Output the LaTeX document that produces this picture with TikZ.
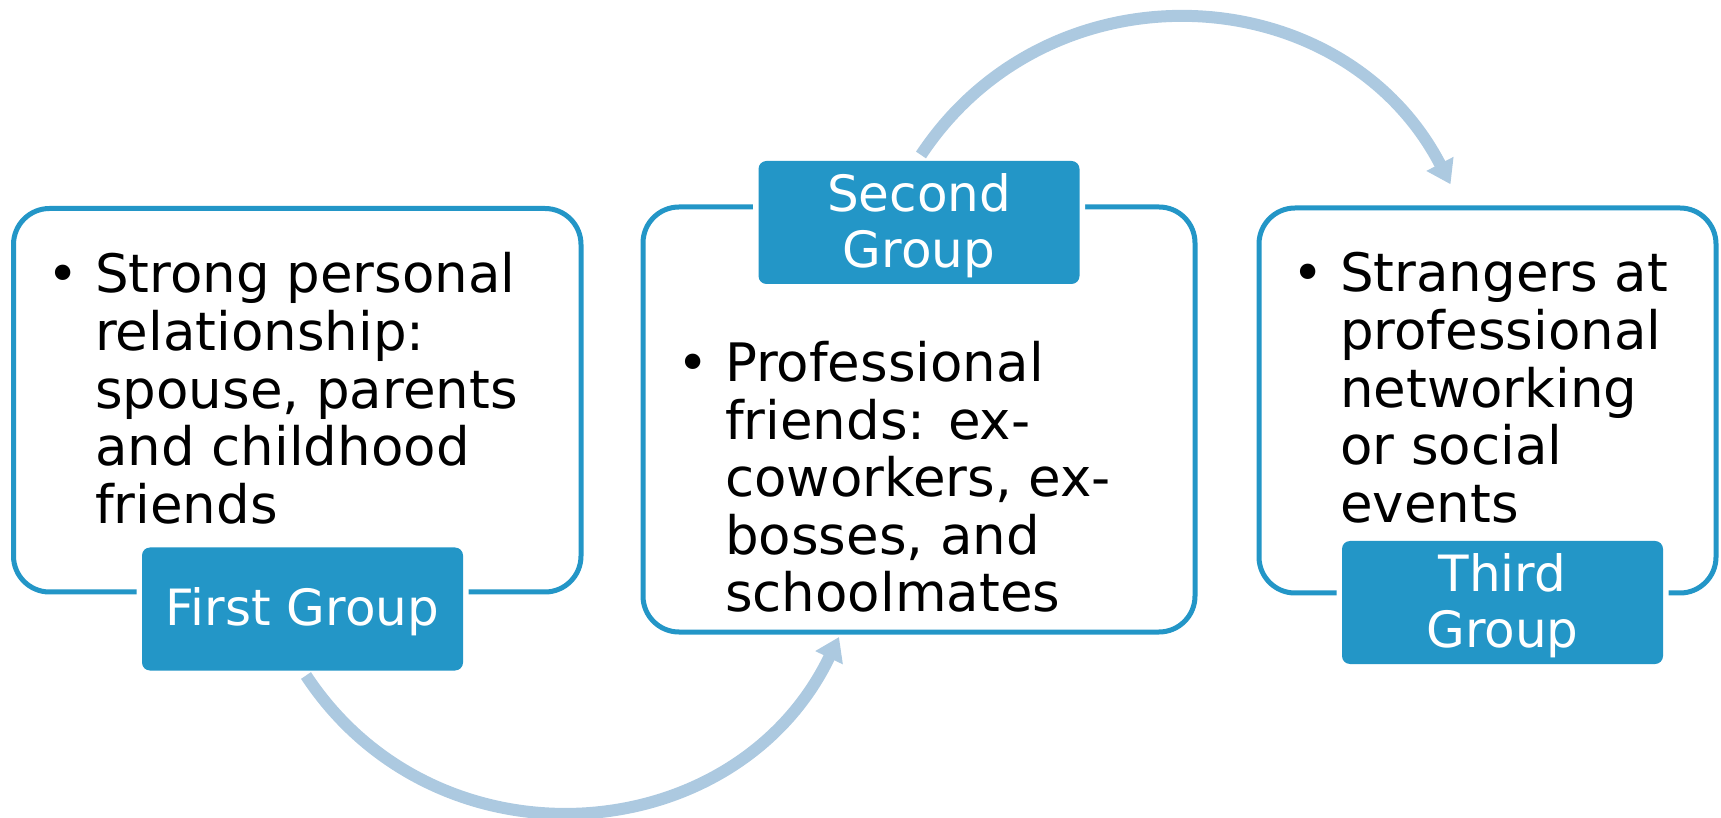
\documentclass[tikz,border=0pt]{standalone}
\usepackage{fontspec}
\setmainfont{DejaVu Sans}
\usetikzlibrary{arrows.meta,calc}
\definecolor{accent}{RGB}{35,150,199}
\definecolor{flowc}{RGB}{172,201,224}
\begin{document}
\begin{tikzpicture}[x=1pt,y=1pt,
  groupbox/.style={draw=accent, line width=5pt, rounded corners=36pt, fill=white, inner sep=0pt, outer sep=0pt},
  grouplabel/.style={fill=accent, rounded corners=8pt, text=white, inner sep=0pt, outer sep=0pt,
    minimum width=321pt, minimum height=123pt, align=center, font=\fontsize{50}{56}\selectfont,
    text depth=4.8pt, preaction={draw=white, line width=11pt}},
  bodytext/.style={anchor=base west, inner sep=0pt, outer sep=0pt, font=\fontsize{53}{57.6}\selectfont},
  flow/.style={draw=flowc, line width=12pt, -{Triangle[length=23pt,width=29pt]}}
]
\useasboundingbox (0,0) rectangle (1721,817);
% boxes
\node[groupbox, minimum width=567.5pt, minimum height=383.5pt] (B1) at (297.25,416.75) {};
\node[groupbox, minimum width=552pt, minimum height=425pt] (B2) at (919,397.5) {};
\node[groupbox, minimum width=457pt, minimum height=385pt] (B3) at (1487.5,416.5) {};
% body texts
\node[bodytext] (T1) at (47.4,524) {\begin{tabular}[t]{@{}l@{\hspace{16.5pt}}l@{}}\textbullet & Strong personal\\ & relationship:\\ & spouse, parents\\ & and childhood\\ & friends\end{tabular}};
\node[bodytext] (T2) at (677.4,435.5) {\begin{tabular}[t]{@{}l@{\hspace{16.5pt}}l@{}}\textbullet & Professional\\ & friends: ex-\\ & coworkers, ex-\\ & bosses, and\\ & schoolmates\end{tabular}};
\node[bodytext] (T3) at (1292.4,525) {\begin{tabular}[t]{@{}l@{\hspace{16.5pt}}l@{}}\textbullet & Strangers at\\ & professional\\ & networking\\ & or social\\ & events\end{tabular}};
% labels
\node[grouplabel] (L1) at (302.5,208) {First Group};
\node[grouplabel] (L2) at (919,594.5) {Second\\Group};
\node[grouplabel] (L3) at (1502.5,214.5) {Third\\Group};
% arrows
\coordinate (a1s) at ($(L1.south)+(3.5,-5)$);
\coordinate (a1e) at ($(B2.south)+(-80,-5)$);
\draw[flow] (a1s) to[out=-56.6,in=244.3,looseness=1.14] (a1e);
\coordinate (a2s) at ($(L2.north)+(2,6)$);
\coordinate (a2e) at ($(B3.north)+(-37,23.7)$);
\draw[flow] (a2s) to[out=56.5,in=117.4,looseness=1.13] (a2e);
\end{tikzpicture}
\end{document}
